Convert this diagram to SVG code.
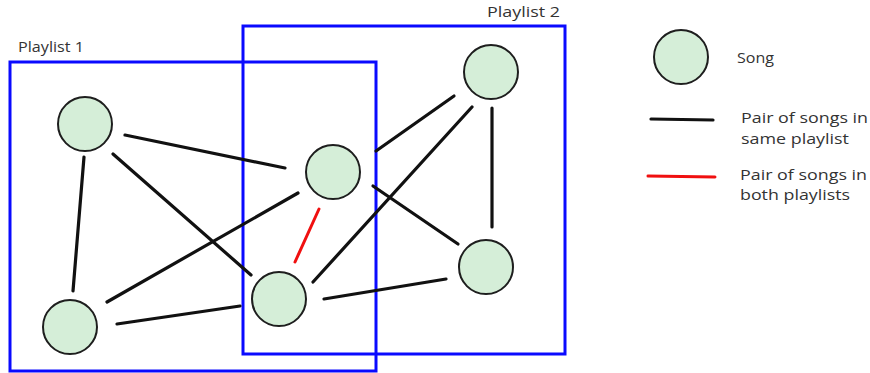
<svg xmlns="http://www.w3.org/2000/svg" width="870" height="373" viewBox="0 0 870 373">
  <style>
    .frame { fill: none; stroke: #0a0aff; stroke-width: 3; }
    .song { fill: #d5eed8; stroke: #1e1e1e; stroke-width: 2; }
    .edge { stroke: #111; stroke-width: 3.2; stroke-linecap: round; }
    .shared { stroke: #f01010; stroke-width: 3; stroke-linecap: round; }
    text { font-family: "Open Sans", "Liberation Sans", sans-serif; font-size: 14px; fill: #333; }
  </style>
  <rect width="870" height="373" fill="#ffffff"/>

  <!-- playlist frames -->
  <g id="playlist1">
    <rect class="frame" x="10" y="62" width="366" height="309"/>
    <text x="18" y="52" textLength="66" lengthAdjust="spacingAndGlyphs">Playlist 1</text>
  </g>
  <g id="playlist2">
    <rect class="frame" x="243" y="26" width="322" height="328"/>
    <text x="487" y="17" textLength="73" lengthAdjust="spacingAndGlyphs">Playlist 2</text>
  </g>

  <!-- connectors -->
  <g id="connectors">
    <line class="edge" x1="125" y1="135" x2="285" y2="168"/>
    <line class="edge" x1="84" y1="157" x2="73" y2="291"/>
    <line class="edge" x1="113" y1="154" x2="251" y2="275"/>
    <line class="edge" x1="107" y1="302" x2="298" y2="193"/>
    <line class="edge" x1="117" y1="324" x2="240" y2="306"/>
    <line class="shared" x1="319" y1="209" x2="295" y2="262"/>
    <line class="edge" x1="313" y1="282" x2="472" y2="107"/>
    <line class="edge" x1="376" y1="151" x2="454" y2="96"/>
    <line class="edge" x1="373" y1="186" x2="458" y2="244"/>
    <line class="edge" x1="492" y1="108" x2="492" y2="227"/>
    <line class="edge" x1="324" y1="299" x2="446" y2="279"/>
  </g>

  <!-- songs -->
  <g id="songA"><circle class="song" cx="85" cy="124" r="27"/></g>
  <g id="songB"><circle class="song" cx="333" cy="172" r="27"/></g>
  <g id="songC"><circle class="song" cx="491" cy="72" r="27"/></g>
  <g id="songD"><circle class="song" cx="486" cy="267" r="27"/></g>
  <g id="songE"><circle class="song" cx="279" cy="299" r="27"/></g>
  <g id="songF"><circle class="song" cx="70" cy="327" r="27"/></g>

  <!-- legend -->
  <g id="legend">
    <circle class="song" cx="681" cy="57" r="27"/>
    <text x="737" y="63" textLength="37" lengthAdjust="spacingAndGlyphs">Song</text>
    <line class="edge" x1="651" y1="119" x2="713" y2="120"/>
    <text x="741" y="123" textLength="127" lengthAdjust="spacingAndGlyphs">Pair of songs in</text>
    <text x="741" y="144" textLength="108" lengthAdjust="spacingAndGlyphs">same playlist</text>
    <line class="shared" x1="648" y1="176" x2="715" y2="177"/>
    <text x="740" y="180" textLength="127" lengthAdjust="spacingAndGlyphs">Pair of songs in</text>
    <text x="740" y="200" textLength="110" lengthAdjust="spacingAndGlyphs">both playlists</text>
  </g>
</svg>
